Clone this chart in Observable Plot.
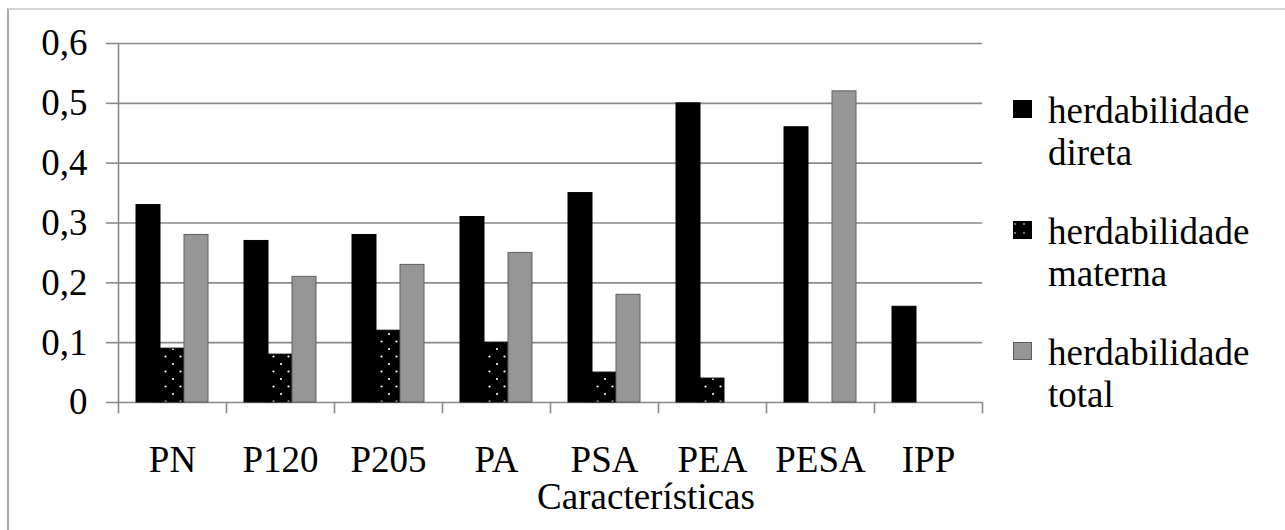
<!DOCTYPE html>
<html>
<head>
<meta charset="utf-8">
<script src="https://cdn.jsdelivr.net/npm/d3@7"></script>
<script src="https://cdn.jsdelivr.net/npm/@observablehq/plot@0.6"></script>
<style>
  html, body { margin: 0; padding: 0; background: #fff; }
  #wrap { position: relative; width: 1285px; height: 530px; overflow: hidden; }
  #border { position: absolute; left: 7px; top: 8px; right: 0; bottom: -5px; border-top: 2px solid #d4d4d4; border-left: 2px solid #a8a8a8; }
  #chart { position: absolute; left: 0; top: 0; }
</style>
</head>
<body>
<div id="wrap">
  <div id="border"></div>
  <div id="chart"></div>
</div>
<script>
// ---- data ----
const categorias = ["PN", "P120", "P205", "PA", "PSA", "PEA", "PESA", "IPP"];
const series = ["herdabilidade direta", "herdabilidade materna", "herdabilidade total"];
const direta  = [0.33, 0.27, 0.28, 0.31, 0.35, 0.50, 0.46, 0.16];
const materna = [0.09, 0.08, 0.12, 0.10, 0.05, 0.04, null, null];
const total   = [0.28, 0.21, 0.23, 0.25, 0.18, null, 0.52, null];
const yTicks = [0, 0.1, 0.2, 0.3, 0.4, 0.5, 0.6];
const yTickLabels = ["0", "0,1", "0,2", "0,3", "0,4", "0,5", "0,6"];
const xTitle = "Características";

// ---- build table ----
const valores = [direta, materna, total];
const rows = [];
categorias.forEach((c, i) => {
  series.forEach((s, j) => {
    const v = valores[j][i];
    if (v != null) rows.push({categoria: c, serie: s, valor: v});
  });
});
const bySerie = s => rows.filter(r => r.serie === s);

const fills = ["#000000", "url(#dots)", "#969696"];
const strokes = ["#000000", "#000000", "#5e5e5e"];
const serifFont = "'Liberation Serif', Tinos, 'Times New Roman', 'Nimbus Roman', 'DejaVu Serif', serif";

const plot = Plot.plot({
  width: 1285,
  height: 530,
  marginLeft: 114,
  marginRight: 300,
  marginTop: 43,
  marginBottom: 128,
  style: {fontFamily: serifFont, fontSize: "37px", color: "#000", background: "transparent"},
  fx: {domain: categorias, padding: 0},
  x: {domain: series, paddingInner: 0, paddingOuter: 0.74, axis: null},
  y: {domain: [0, 0.6]},
  marks: [
    Plot.gridY({ticks: yTicks, stroke: "#8a8a8a", strokeOpacity: 1, strokeWidth: 1.6}),
    Plot.frame({anchor: "left", facetAnchor: "left", stroke: "#8a8a8a", strokeWidth: 1.6}),
    Plot.frame({anchor: "left", insetTop: 359, insetBottom: -10, stroke: "#8a8a8a", strokeWidth: 1.6}),
    Plot.frame({anchor: "right", facetAnchor: "right", insetTop: 359, insetBottom: -10, stroke: "#8a8a8a", strokeWidth: 1.6}),
    ...series.map((s, j) => Plot.barY(bySerie(s), {
      fx: "categoria", x: "serie", y: "valor",
      fill: fills[j], stroke: strokes[j], strokeWidth: 1
    })),
    Plot.axisY({ticks: yTicks, tickFormat: (d, i) => yTickLabels[i], tickSize: 12, tickPadding: 19, stroke: "#8a8a8a", strokeWidth: 1.6, label: null}),
    Plot.axisFx({anchor: "bottom", tickSize: 0, tickPadding: 43, label: null})
  ]
});

// pattern for "materna" bars (black with white dots)
const svg = d3.select(plot);
const defs = svg.insert("defs", ":first-child");
const pat = defs.append("pattern").attr("id", "dots").attr("patternUnits", "userSpaceOnUse")
  .attr("width", 15).attr("height", 15);
pat.append("rect").attr("width", 15).attr("height", 15).attr("fill", "#000");
pat.append("circle").attr("cx", 4).attr("cy", 4).attr("r", 1.1).attr("fill", "#fff");
pat.append("circle").attr("cx", 11.5).attr("cy", 11.5).attr("r", 1.1).attr("fill", "#fff");
const patS = defs.append("pattern").attr("id", "dotsSmall").attr("patternUnits", "userSpaceOnUse")
  .attr("width", 9).attr("height", 9);
patS.append("rect").attr("width", 9).attr("height", 9).attr("fill", "#000");
patS.append("circle").attr("cx", 2).attr("cy", 3).attr("r", 0.8).attr("fill", "#fff");

// axis title (centred on the chart area) and legend, as SVG text
const extras = svg.append("g").attr("font-family", serifFont).attr("font-size", 37).attr("fill", "#000");
extras.append("text").attr("x", 646).attr("y", 509).attr("text-anchor", "middle").text(xTitle);

const swFill = ["#000", "url(#dotsSmall)", "#969696"];
const swStroke = ["#000", "#000", "#5e5e5e"];
series.forEach((s, j) => {
  const g = extras.append("g").attr("transform", `translate(1013, ${100 + j * 121})`);
  g.append("rect").attr("x", 0.5).attr("y", 0.5).attr("width", 18).attr("height", 17)
    .attr("fill", swFill[j]).attr("stroke", swStroke[j]).attr("stroke-width", 1);
  const parts = s.split(" ");
  g.append("text").attr("x", 35).attr("y", 23).attr("text-anchor", "start").text(parts[0]);
  g.append("text").attr("x", 35).attr("y", 65).attr("text-anchor", "start").text(parts[1]);
});

document.getElementById("chart").appendChild(plot);
</script>
</body>
</html>
